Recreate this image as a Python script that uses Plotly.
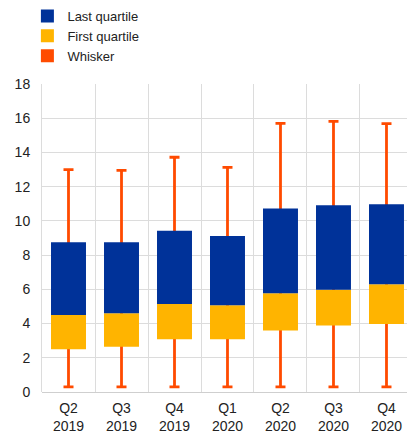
import plotly.graph_objects as go

categories = ["Q2<br>2019", "Q3<br>2019", "Q4<br>2019", "Q1<br>2020", "Q2<br>2020", "Q3<br>2020", "Q4<br>2020"]
whisker_min = [0.3, 0.3, 0.3, 0.3, 0.3, 0.3, 0.3]
q1 = [2.5, 2.65, 3.08, 3.08, 3.6, 3.88, 3.97]
median = [4.5, 4.6, 5.14, 5.07, 5.77, 5.98, 6.29]
q3 = [8.75, 8.75, 9.43, 9.12, 10.73, 10.91, 10.97]
whisker_max = [13.0, 12.95, 13.72, 13.13, 15.7, 15.82, 15.68]

BLUE = "#003299"
YELLOW = "#FFB400"
ORANGE = "#FF4B00"

x = list(range(len(categories)))
mid = [(a + b) / 2 for a, b in zip(whisker_min, whisker_max)]
half = [(b - a) / 2 for a, b in zip(whisker_min, whisker_max)]

fig = go.Figure()
# whisker (drawn first so bars cover it)
fig.add_trace(go.Bar(
    x=x, y=mid, base=0, width=0.66,
    marker=dict(color="rgba(0,0,0,0)", line=dict(width=0)),
    error_y=dict(type="data", array=half, symmetric=True, color=ORANGE, thickness=2.8, width=5),
    showlegend=False, hoverinfo="skip",
))
fig.add_trace(go.Bar(
    x=x, y=[m - a for a, m in zip(q1, median)], base=q1, width=0.66,
    marker=dict(color=YELLOW, line=dict(width=0)), showlegend=False,
))
fig.add_trace(go.Bar(
    x=x, y=[b - m for m, b in zip(median, q3)], base=median, width=0.66,
    marker=dict(color=BLUE, line=dict(width=0)), showlegend=False,
))
# legend entries
for name, col in [("Last quartile", BLUE), ("First quartile", YELLOW), ("Whisker", ORANGE)]:
    fig.add_trace(go.Scatter(x=[None], y=[None], name=name, mode="markers",
                             marker=dict(color=col, symbol="square", size=13)))

fig.update_layout(
    width=407, height=436,
    margin=dict(l=42, r=0, t=84, b=44, autoexpand=False),
    barmode="overlay",
    plot_bgcolor="white", paper_bgcolor="white",
    font=dict(family="Arial, Liberation Sans, sans-serif", size=14, color="#222"),
    legend=dict(x=-0.04, y=1.2695, xanchor="left", yanchor="top",
                font=dict(size=13), bgcolor="rgba(0,0,0,0)",
                tracegroupgap=0, itemsizing="trace"),
    showlegend=True,
)
fig.update_xaxes(
    range=[-0.5, 6.387], tickvals=x, ticktext=categories,
    showgrid=False, zeroline=False, showline=False, ticks="",
    minor=dict(showgrid=True, tick0=0.5, dtick=1, gridcolor="#dcdcdc", gridwidth=1),
    tickfont=dict(size=14), ticklabelstandoff=6, ticklabeloverflow="allow",
)
fig.update_yaxes(
    range=[0, 18], dtick=2, showgrid=True, gridcolor="#dcdcdc", gridwidth=1,
    zeroline=True, zerolinecolor="#cfcfcf", zerolinewidth=1,
    showline=True, linecolor="#dcdcdc", linewidth=1, ticks="",
    tickfont=dict(size=14), ticklabelstandoff=8,
)

fig.write_html(
    "out.html",
    config={"displayModeBar": False},
    post_script="document.body.style.margin='0';document.body.style.overflow='hidden';",
)
